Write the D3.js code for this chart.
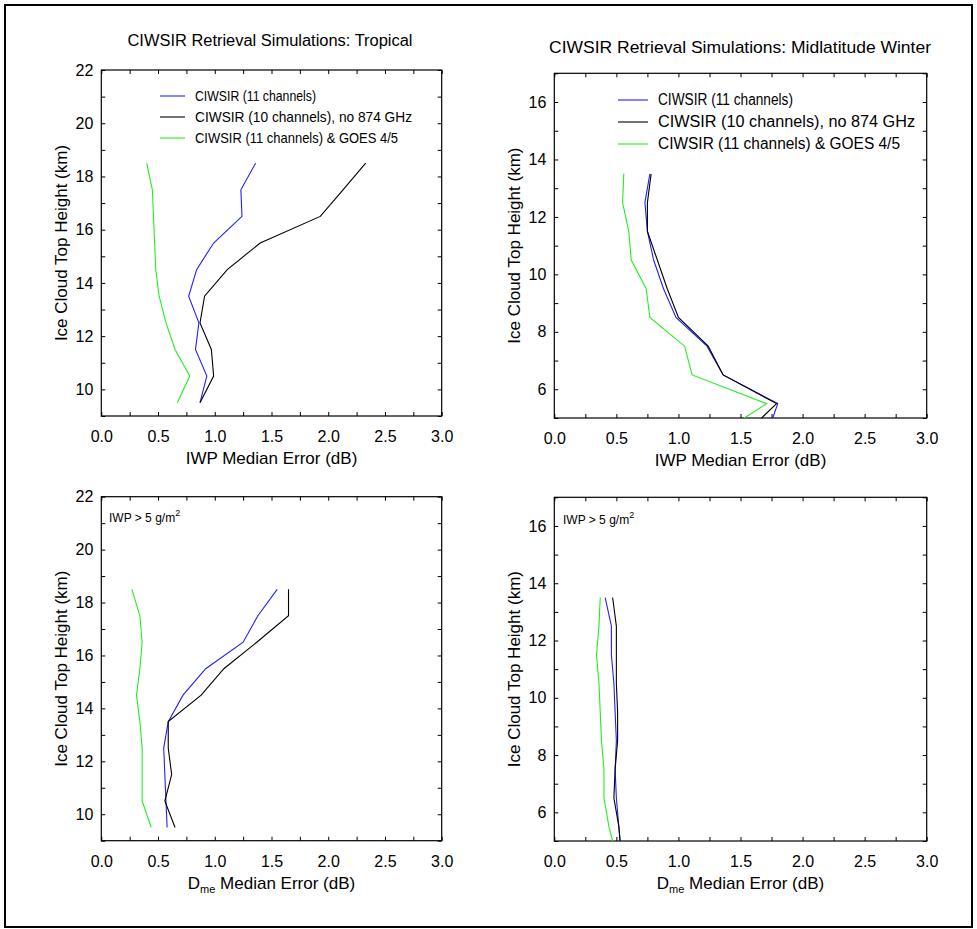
<!DOCTYPE html>
<html><head><meta charset="utf-8">
<script src="https://cdn.jsdelivr.net/npm/d3@7"></script>
<style>
body{margin:0;background:#fff;}
text{font-family:"Liberation Sans",Arial,Helvetica,sans-serif;fill:#000;}
</style></head>
<body>
<svg id="chart" width="977" height="929"></svg>
<script>
// ---------- data ----------
const seriesNames = ["CIWSIR (11 channels)", "CIWSIR (10 channels), no 874 GHz", "CIWSIR (11 channels) & GOES 4/5"];
const seriesColors = ["#2020ff", "#000000", "#22ee22"];
const panelTitles = ["CIWSIR Retrieval Simulations: Tropical", "CIWSIR Retrieval Simulations: Midlatitude Winter"];
const xTicks = [0.0, 0.5, 1.0, 1.5, 2.0, 2.5, 3.0];
const yTicksTrop = [10, 12, 14, 16, 18, 20, 22];
const yTicksMlw = [6, 8, 10, 12, 14, 16];

const heightsTrop = [18.5, 17.5, 16.5, 15.5, 14.5, 13.5, 12.5, 11.5, 10.5, 9.5];
const heightsMlw = [13.5, 12.5, 11.5, 10.5, 9.5, 8.5, 7.5, 6.5, 5.5, 5.0];

const iwpTropBlue  = [1.36, 1.23, 1.24, 0.99, 0.84, 0.77, 0.86, 0.83, 0.93, 0.87];
const iwpTropBlack = [2.33, 2.13, 1.93, 1.40, 1.11, 0.91, 0.87, 0.97, 0.99, 0.87];
const iwpTropGreen = [0.40, 0.45, 0.46, 0.47, 0.48, 0.51, 0.57, 0.65, 0.78, 0.67];

const iwpMlwBlue  = [0.77, 0.73, 0.75, 0.80, 0.88, 0.98, 1.23, 1.36, 1.80, 1.76];
const iwpMlwBlack = [0.78, 0.75, 0.75, 0.83, 0.91, 1.00, 1.24, 1.36, 1.79, 1.67];
const iwpMlwGreen = [0.56, 0.55, 0.60, 0.62, 0.74, 0.77, 1.05, 1.11, 1.71, 1.53];

const dmeTropBlue  = [1.55, 1.38, 1.25, 0.92, 0.72, 0.59, 0.55, 0.56, 0.57, 0.58];
const dmeTropBlack = [1.65, 1.65, 1.37, 1.08, 0.88, 0.59, 0.59, 0.62, 0.56, 0.65];
const dmeTropGreen = [0.27, 0.34, 0.36, 0.34, 0.31, 0.34, 0.36, 0.36, 0.36, 0.44];

const dmeMlwBlue  = [0.41, 0.46, 0.46, 0.48, 0.49, 0.50, 0.49, 0.50, 0.52, 0.53];
const dmeMlwBlack = [0.47, 0.50, 0.50, 0.50, 0.51, 0.51, 0.49, 0.48, 0.52, 0.53];
const dmeMlwGreen = [0.37, 0.36, 0.34, 0.36, 0.37, 0.38, 0.40, 0.40, 0.44, 0.47];

// ---------- layout ----------
const svg = d3.select("#chart");
svg.append("rect").attr("x", 5).attr("y", 5).attr("width", 967).attr("height", 922)
  .attr("fill", "none").attr("stroke", "#000").attr("stroke-width", 2);

const panels = [
  {x0: 101.3, x1: 441.7, y0: 70, y1: 416, ydom: [9, 22], yticks: yTicksTrop, h: heightsTrop,
   series: [iwpTropBlue, iwpTropBlack, iwpTropGreen], xlabel: "iwp", title: panelTitles[0], tx: 270, ty: 46,
   tfs: 16, tlen: 285,
   legend: {x: 160, y: 96, dy: 21, len: 25, fs: 15, widths: [121, 217, 203]}},
  {x0: 554.3, x1: 926.7, y0: 73.3, y1: 418, ydom: [5, 17], yticks: yTicksMlw, h: heightsMlw,
   series: [iwpMlwBlue, iwpMlwBlack, iwpMlwGreen], xlabel: "iwp", title: panelTitles[1], tx: 740, ty: 53,
   tfs: 17, tlen: 382,
   legend: {x: 618, y: 100, dy: 22, len: 30, fs: 16, widths: [135, 257, 242]}},
  {x0: 101.3, x1: 441.7, y0: 496.7, y1: 840.7, ydom: [9, 22], yticks: yTicksTrop, h: heightsTrop,
   series: [dmeTropBlue, dmeTropBlack, dmeTropGreen], xlabel: "dme", note: {x: 109, y: 522}},
  {x0: 554.3, x1: 926.7, y0: 497.3, y1: 841, ydom: [5, 17], yticks: yTicksMlw, h: heightsMlw,
   series: [dmeMlwBlue, dmeMlwBlack, dmeMlwGreen], xlabel: "dme", note: {x: 563, y: 524}}
];

const minorX = d3.range(0, 3.0001, 0.25);

panels.forEach(p => {
  const x = d3.scaleLinear().domain([0, 3]).range([p.x0, p.x1]);
  const y = d3.scaleLinear().domain(p.ydom).range([p.y1, p.y0]);
  const minorY = d3.range(p.ydom[0], p.ydom[1] + 0.001, 1);
  const g = svg.append("g");

  // bottom axis with labels
  g.append("g").attr("transform", `translate(0,${p.y1})`)
    .call(d3.axisBottom(x).tickValues(minorX).tickSizeInner(-4).tickSizeOuter(0).tickPadding(15)
      .tickFormat(d => (Math.abs(d * 2 - Math.round(d * 2)) < 1e-6) ? d3.format(".1f")(d) : ""))
    .call(a => a.select(".domain").remove())
    .call(a => a.selectAll("text").attr("font-size", 16).attr("font-family", null));
  // top axis ticks
  g.append("g").attr("transform", `translate(0,${p.y0})`)
    .call(d3.axisTop(x).tickValues(minorX).tickSizeInner(-4).tickSizeOuter(0).tickFormat(""))
    .call(a => a.select(".domain").remove());
  // left axis
  g.append("g").attr("transform", `translate(${p.x0},0)`)
    .call(d3.axisLeft(y).tickValues(minorY).tickSizeInner(-4).tickSizeOuter(0).tickPadding(8)
      .tickFormat(d => p.yticks.includes(d) ? String(d) : ""))
    .call(a => a.select(".domain").remove())
    .call(a => a.selectAll("text").attr("font-size", 16).attr("font-family", null));
  // right axis ticks
  g.append("g").attr("transform", `translate(${p.x1},0)`)
    .call(d3.axisRight(y).tickValues(minorY).tickSizeInner(-4).tickSizeOuter(0).tickFormat(""))
    .call(a => a.select(".domain").remove());

  // frame
  g.append("rect").attr("x", p.x0).attr("y", p.y0).attr("width", p.x1 - p.x0).attr("height", p.y1 - p.y0)
    .attr("fill", "none").attr("stroke", "#000").attr("stroke-width", 1.2);

  // lines
  const line = d3.line().x(d => x(d[0])).y(d => y(d[1]));
  p.series.forEach((vals, i) => {
    g.append("path").datum(vals.map((v, k) => [v, p.h[k]]))
      .attr("d", line).attr("fill", "none").attr("stroke", seriesColors[i]).attr("stroke-width", 1.1);
  });

  // x label
  const xl = g.append("text").attr("x", (p.x0 + p.x1) / 2).attr("y", p.y1 + 48)
    .attr("text-anchor", "middle").attr("font-size", 17);
  if (p.xlabel === "iwp") {
    xl.text("IWP Median Error (dB)");
  } else {
    xl.append("tspan").text("D");
    xl.append("tspan").attr("font-size", 11).attr("dy", 4).text("me");
    xl.append("tspan").attr("dy", -4).text(" Median Error (dB)");
  }
  // y label
  g.append("text").attr("transform", `translate(${p.x0 - 34},${(p.y0 + p.y1) / 2}) rotate(-90)`)
    .attr("text-anchor", "middle").attr("font-size", 17).text("Ice Cloud Top Height (km)");

  if (p.title) {
    svg.append("text").attr("x", p.tx).attr("y", p.ty).attr("text-anchor", "middle")
      .attr("font-size", p.tfs).attr("textLength", p.tlen).attr("lengthAdjust", "spacingAndGlyphs")
      .text(p.title);
  }
  if (p.legend) {
    seriesNames.forEach((nm, i) => {
      const yy = p.legend.y + i * p.legend.dy;
      g.append("line").attr("x1", p.legend.x).attr("x2", p.legend.x + p.legend.len)
        .attr("y1", yy).attr("y2", yy).attr("stroke", seriesColors[i]).attr("stroke-width", 1.1);
      g.append("text").attr("x", p.legend.x + p.legend.len + 10).attr("y", yy + 5)
        .attr("font-size", p.legend.fs).attr("textLength", p.legend.widths[i])
        .attr("lengthAdjust", "spacingAndGlyphs").text(nm);
    });
  }
  if (p.note) {
    const t = g.append("text").attr("x", p.note.x).attr("y", p.note.y).attr("font-size", 12);
    t.append("tspan").text("IWP > 5 g/m");
    t.append("tspan").attr("font-size", 9).attr("dy", -6).text("2");
  }
});
</script>
</body></html>
